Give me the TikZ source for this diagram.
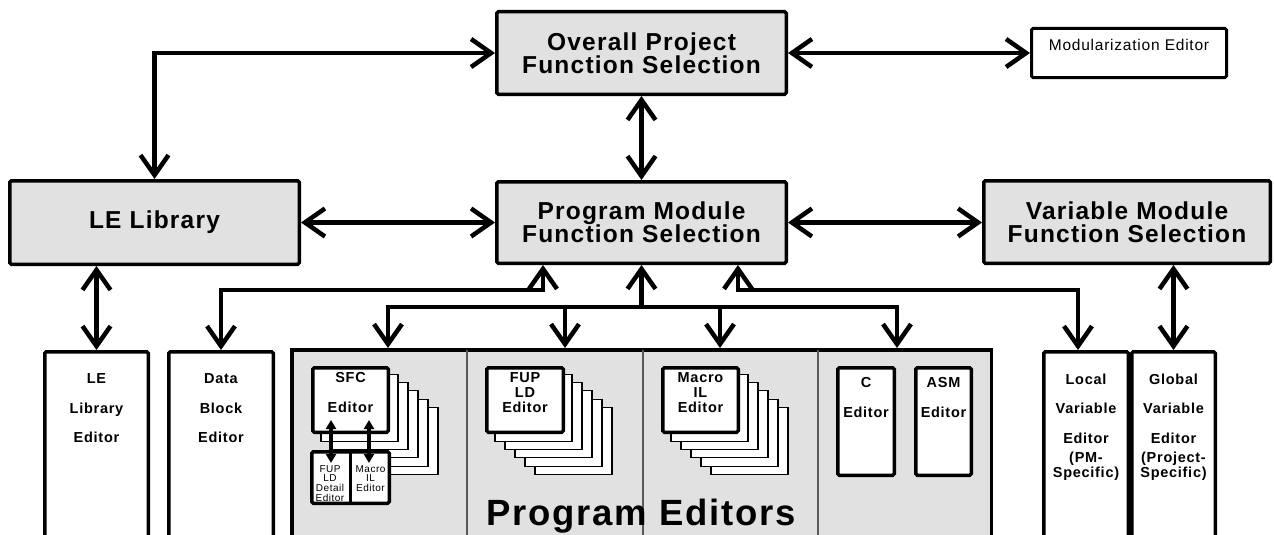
\documentclass[tikz,border=0pt]{standalone}
\usepackage{fontspec}
\setmainfont{Liberation Sans}[LetterSpace=5]
\usetikzlibrary{arrows.meta,calc}
\definecolor{panelgray}{RGB}{225,225,225}
\definecolor{rulegray}{RGB}{90,90,90}
\begin{document}
\begin{tikzpicture}[x=1pt,y=-1pt,
  boxline/.style={line width=3.5pt},
  gbox/.style={draw, boxline, fill=panelgray, rounded corners=1.5pt, inner sep=0pt,
    align=center, font=\bfseries\fontsize{24.5}{23}\selectfont},
  wbox/.style={draw, boxline, fill=white, rounded corners=1.5pt, inner sep=0pt},
  page/.style={draw=black, line width=1.1pt, fill=white},
  link/.style={line width=4.5pt, >={Straight Barb[length=20pt,width=28pt]}},
  minilink/.style={line width=3.2pt, >={Triangle[length=9pt,width=10pt]}},
  caption/.style={inner sep=0pt, align=center, anchor=north,
    font=\bfseries\fontsize{14.5}{29.5}\selectfont},
  tight/.style={font=\bfseries\fontsize{14.5}{15}\selectfont},
  closer/.style={font=\bfseries\fontsize{14.5}{11.5}\selectfont},
  tiny/.style={inner sep=0pt, align=center, anchor=north, font=\fontsize{10}{9.7}\selectfont},
]
\useasboundingbox (0,0) rectangle (1274,535);
\fill[white] (0,0) rectangle (1274,535);
\clip (0,0) rectangle (1274,535);

% ---------- upper level: selection boxes ----------
\node[gbox, minimum width=289.5pt, minimum height=82.5pt] (op) at (641.5,53)
  {Overall Project\\Function Selection};
\node[gbox, minimum width=289.5pt, minimum height=81.5pt] (pm) at (641.5,222.5)
  {Program Module\\Function Selection};
\node[gbox, minimum width=289.5pt, minimum height=83.5pt] (le) at (154.5,222.5)
  {LE Library};
\node[gbox, minimum width=286.5pt, minimum height=82.5pt] (vm) at (1127,222)
  {Variable Module\\Function Selection};
\node[wbox, line width=3pt, minimum width=195pt, minimum height=49pt] (mod) at (1129,53) {};
\node[inner sep=0pt, anchor=base, font=\fontsize{15.5}{18}\selectfont] (modt) at (1129,50.5)
  {Modularization Editor};

% ---------- lower level: editors ----------
\node[wbox, minimum width=103.5pt, minimum height=191.5pt] (lee) at (96.5,447.5) {};
\node[caption] (leet) at (96.5,373.5) {LE\\Library\\Editor};
\node[wbox, minimum width=104.5pt, minimum height=191.5pt] (dbe) at (221,447.5) {};
\node[caption] (dbet) at (221,373.5) {Data\\Block\\Editor};

\node[wbox, fill=panelgray, rounded corners=0pt, minimum width=699.5pt, minimum height=193.5pt]
  (pe) at (641.5,446.5) {};
\foreach \dx/\nm in {467/da,643/db,818/dc}
  \draw[rulegray, line width=1.1pt] (\dx,350) coordinate (\nm) -- (\dx,540);
\node[inner sep=0pt, anchor=base, font=\bfseries\fontsize{36.5}{40}\selectfont] (pet) at (641,525)
  {Program Editors};

% stacked editor pages
\foreach \px in {311,485,661}
  \foreach \k in {5,4,...,1}
    \draw[page] (\px+10*\k, 366+8.3*\k) rectangle ++(77,67);

\node[wbox, minimum width=75.5pt, minimum height=64.5pt] (sfc) at (350.5,400) {};
\node[caption] (sfct) at (350.5,372.5) {SFC\\Editor};
\node[wbox, minimum width=76.5pt, minimum height=64.5pt] (fup) at (525,400) {};
\node[caption, tight] (fupt) at (525,372.5) {FUP\\LD\\Editor};
\node[wbox, minimum width=75.5pt, minimum height=64.5pt] (mac) at (700.5,400) {};
\node[caption, tight] (mact) at (700.5,372.5) {Macro\\IL\\Editor};

\node[wbox, minimum width=77.5pt, minimum height=51.5pt] (detail) at (350.5,477.5) {};
\draw[boxline] (detail.north) -- (detail.south);
\node[tiny] (detl) at (330,465) {FUP\\LD\\Detail\\Editor};
\node[tiny] (detr) at (370.5,465) {Macro\\IL\\Editor};
\draw[minilink,<->] ($(sfc.south)+(-19.5,-14)$) -- ($(detail.north)+(-19.5,13)$);
\draw[minilink,<->] ($(sfc.south)+(18.5,-14)$) -- ($(detail.north)+(18.5,13)$);

\node[wbox, minimum width=56.5pt, minimum height=107.5pt] (ced) at (866,421.5) {};
\node[caption] (cedt) at (866,377.5) {C\\Editor};
\node[wbox, minimum width=55.5pt, minimum height=107.5pt] (asm) at (943.5,421.5) {};
\node[caption] (asmt) at (943.5,377.5) {ASM\\Editor};

\node[wbox, minimum width=84.5pt, minimum height=191.5pt] (lve) at (1086,447.5) {};
\node[caption] (lvet) at (1086,373.5) {Local\\Variable\\Editor};
\node[caption, closer] (lves) at (1086,452) {(PM-\\Specific)};
\node[wbox, minimum width=83.5pt, minimum height=191.5pt] (gve) at (1173.5,447.5) {};
\node[caption] (gvet) at (1173.5,373.5) {Global\\Variable\\Editor};
\node[caption, closer] (gves) at (1173.5,452) {(Project-\\Specific)};

% ---------- connectors ----------
\draw[link,<->] (op.west) -| (le.north);
\draw[link,<->] (op.east) -- (mod.west);
\draw[link,<->] (op.south) -- (pm.north);
\draw[link,<->] (le.east) -- (pm.west);
\draw[link,<->] (pm.east) -- (vm.west |- pm.east);
\draw[link,<->] (lee.north |- le.south) -- (lee.north);
\draw[link,<->] (gve.north |- vm.south) -- (gve.north);

\coordinate (pmA) at (543,265);
\coordinate (busL) at (543,290);
\coordinate (pmC) at (738,265);
\coordinate (busR) at (738,290);
\coordinate (lveT) at (1078,350);
\draw[link,<->] (dbe.north) |- (busL) -- (pmA);
\draw[link,<->] (pmC) -- (busR) -| (lveT);

\coordinate (hub) at (641.5,307);
\coordinate (tSFC) at (388,348);
\coordinate (tFUP) at (565,348);
\coordinate (tMAC) at (720,348);
\coordinate (tC) at (897,348);
\draw[link,->] (hub) -| (tSFC);
\draw[link,->] (hub) -| (tFUP);
\draw[link,->] (hub) -| (tMAC);
\draw[link,->] (hub) -| (tC);
\draw[link,->] (hub) -- (pm.south);
\end{tikzpicture}
\end{document}
